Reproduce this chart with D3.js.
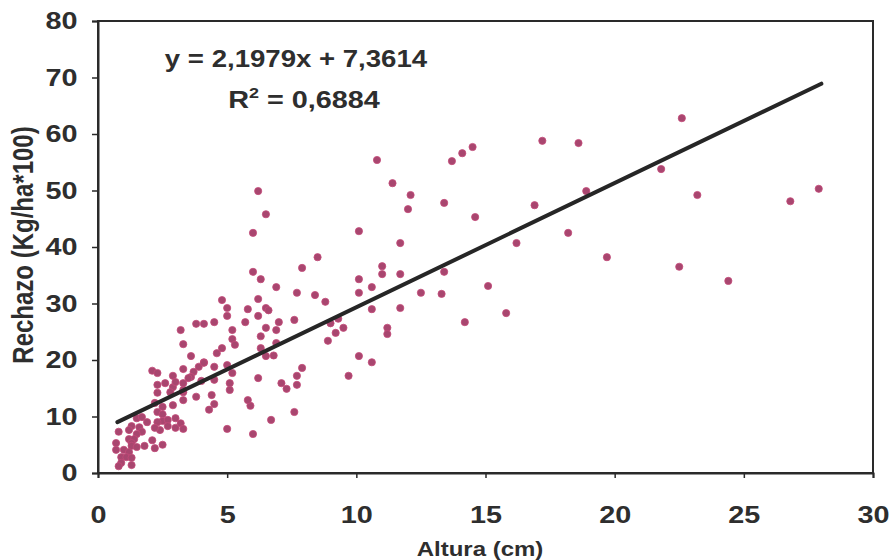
<!DOCTYPE html>
<html>
<head>
<meta charset="utf-8">
<script src="https://cdn.jsdelivr.net/npm/d3@7"></script>
<style>
  body { margin: 0; background: #fff; }
  text { font-family: "Liberation Sans", Arial, sans-serif; font-weight: bold; fill: #2e2e2e; }
</style>
</head>
<body>
<div id="chart"></div>
<script>
// Altura (cm) and Rechazo (Kg/ha*100), paired by index
const altura = [
  22.6, 17.2, 18.6, 14.5, 14.1, 13.7, 21.8, 18.9, 23.2, 27.9, 26.8, 16.9, 18.2, 19.7, 22.5, 24.4,
  15.8, 15.1, 14.6, 13.4, 16.2, 14.2, 13.4, 13.3, 12.5, 11.7, 11.7, 11.7, 12.1, 12.0, 11.4, 10.8,
  11.0, 11.0, 11.2, 11.2, 6.2, 6.5, 6.0, 10.1, 8.5, 7.9, 6.0, 6.3, 6.9, 10.1, 10.6, 10.1,
  7.7, 8.4, 8.8, 6.2, 6.5, 6.6, 5.8, 6.2, 7.0, 7.6, 10.6, 6.5, 6.9, 6.3, 9.0, 9.3,
  9.5, 9.2, 8.9, 6.9, 6.3, 6.5, 6.8, 10.1, 10.6, 7.9, 9.7, 7.7, 6.2, 7.1, 7.3, 7.7,
  5.9, 7.6, 6.7, 6.0, 4.8, 5.0, 5.0, 5.7, 4.5, 3.8, 4.1, 3.2, 5.2, 3.3, 5.2, 5.3,
  4.8, 4.6, 3.6, 4.1, 3.9, 3.7, 3.3, 2.9, 3.6, 4.5, 5.0, 5.2, 5.1, 5.1, 4.5, 4.0,
  2.9, 3.3, 3.8, 4.4, 4.5, 4.3, 5.8, 2.9, 2.5, 5.0, 2.1, 2.3, 4.1, 3.0, 3.5, 2.6,
  2.3, 3.3, 3.3, 2.8, 3.3, 2.3, 2.2, 2.3, 1.5, 1.7, 2.5, 2.5, 2.7, 2.3, 1.9, 3.0,
  2.7, 3.0, 3.2, 3.3, 2.4, 2.2, 1.6, 1.3, 1.2, 1.7, 1.5, 1.2, 1.4, 1.3, 1.8, 2.2,
  2.5, 2.1, 0.8, 0.7, 1.0, 1.2, 0.7, 0.9, 1.1, 0.9, 1.3, 1.3, 0.8, 1.3, 1.5
];
const rechazo = [
  62.8, 58.8, 58.4, 57.7, 56.6, 55.2, 53.8, 49.9, 49.2, 50.3, 48.1, 47.4, 42.5, 38.2, 36.5, 34.0,
  28.3, 33.1, 45.3, 47.8, 40.7, 26.7, 35.6, 31.7, 31.9, 40.7, 35.2, 29.2, 49.2, 46.7, 51.3, 55.4,
  36.6, 35.2, 25.7, 24.6, 49.9, 45.8, 42.5, 42.8, 38.2, 36.3, 35.6, 34.3, 32.9, 34.3, 32.9, 31.9,
  31.9, 31.5, 30.3, 30.8, 29.2, 28.8, 29.0, 27.8, 26.7, 27.1, 29.0, 25.7, 25.3, 24.2, 26.5, 27.3,
  25.7, 24.8, 23.4, 23.0, 22.1, 20.7, 20.8, 20.7, 19.6, 18.6, 17.2, 17.2, 16.8, 15.9, 14.9, 15.6,
  11.9, 10.8, 9.4, 6.9, 30.6, 29.2, 27.8, 26.7, 26.7, 26.4, 26.4, 25.3, 25.3, 22.8, 23.7, 22.7,
  22.1, 21.2, 20.7, 19.6, 18.8, 17.9, 18.4, 17.2, 17.0, 18.8, 19.1, 17.7, 15.9, 14.7, 16.5, 16.3,
  15.2, 14.3, 13.5, 13.8, 12.2, 11.2, 12.9, 12.0, 11.7, 7.8, 18.1, 17.7, 19.5, 16.1, 16.8, 15.9,
  15.6, 15.9, 14.7, 14.3, 12.9, 14.2, 12.4, 10.8, 9.7, 9.9, 10.4, 9.2, 9.4, 9.0, 9.0, 9.7,
  8.3, 8.0, 8.8, 7.8, 7.6, 8.0, 8.1, 8.3, 7.6, 7.3, 6.9, 6.0, 6.0, 5.3, 4.8, 4.4,
  5.0, 5.8, 7.3, 5.3, 4.1, 3.7, 4.1, 2.8, 2.8, 1.8, 1.4, 2.7, 1.2, 4.8, 4.6
];

const xTicks = [0, 5, 10, 15, 20, 25, 30];
const yTicks = [0, 10, 20, 30, 40, 50, 60, 70, 80];

// trend line from the chart's equation
const slope = 2.1979;
const intercept = 7.3614;
const trendRange = [0.75, 28];
const equationLabel = "y = 2,1979x + 7,3614";
const r2Value = "0,6884";

const data = altura.map((a, i) => ({x: a, y: rechazo[i]}));

const totalW = 890, totalH = 560;
const margin = {top: 21, right: 17, bottom: 87, left: 98};
const width = totalW - margin.left - margin.right;
const height = totalH - margin.top - margin.bottom;
const stretch = 1.2; // text in the picture is wider than it is tall

const svg = d3.select('#chart')
  .append('svg')
  .attr('width', totalW)
  .attr('height', totalH);

const g = svg.append('g')
  .attr('transform', `translate(${margin.left}, ${margin.top})`);

const x = d3.scaleLinear().domain([0, 30]).range([0, width]);
const y = d3.scaleLinear().domain([0, 80]).range([height, 0]);

// points
g.selectAll('circle')
  .data(data)
  .enter()
  .append('circle')
  .attr('cx', d => x(d.x))
  .attr('cy', d => y(d.y))
  .attr('r', 3.6)
  .attr('fill', '#a8466f')
  .attr('stroke', '#c44a78')
  .attr('stroke-width', 0.8);

// regression line
const line = d3.line().x(d => x(d[0])).y(d => y(d[1]));
g.append('path')
  .datum(trendRange.map(v => [v, slope * v + intercept]))
  .attr('d', line)
  .attr('stroke', '#262626')
  .attr('stroke-width', 4)
  .attr('stroke-linecap', 'round')
  .attr('fill', 'none');

// frame
g.append('rect')
  .attr('width', width)
  .attr('height', height)
  .attr('fill', 'none')
  .attr('stroke', '#2a2a2a')
  .attr('stroke-width', 2);

// axes
const xAxis = g.append('g')
  .attr('transform', `translate(0, ${height})`)
  .call(d3.axisBottom(x).tickValues(xTicks).tickSize(5).tickPadding(28));
const yAxis = g.append('g')
  .call(d3.axisLeft(y).tickValues(yTicks).tickSize(6).tickPadding(11));

[xAxis, yAxis].forEach(ax => {
  ax.select('.domain').attr('stroke', '#2a2a2a').attr('stroke-width', 2);
  ax.selectAll('.tick line').attr('stroke', '#2a2a2a').attr('stroke-width', 1.5);
  ax.selectAll('.tick text')
    .attr('font-size', 24)
    .attr('font-family', '"Liberation Sans", Arial, sans-serif')
    .attr('font-weight', 'bold')
    .attr('fill', '#2e2e2e')
    .attr('transform', `scale(${stretch},1)`);
});

// axis titles
svg.append('text')
  .attr('transform', `translate(480, 556) scale(${stretch},1)`)
  .attr('text-anchor', 'middle')
  .attr('font-size', 20)
  .text('Altura (cm)');

svg.append('text')
  .attr('transform', `translate(33, 245) rotate(-90) scale(1,${stretch})`)
  .attr('text-anchor', 'middle')
  .attr('font-size', 24)
  .text('Rechazo (Kg/ha*100)');

// equation
svg.append('text')
  .attr('transform', `translate(296, 67) scale(${stretch},1)`)
  .attr('text-anchor', 'middle')
  .attr('font-size', 23)
  .text(equationLabel);

const r2 = svg.append('text')
  .attr('transform', `translate(304, 108) scale(${stretch},1)`)
  .attr('text-anchor', 'middle')
  .attr('font-size', 24);
r2.append('tspan').text('R');
r2.append('tspan').attr('font-size', 15).attr('dy', -10).text('2');
r2.append('tspan').attr('dy', 10).text(' = ' + r2Value);
</script>
</body>
</html>
